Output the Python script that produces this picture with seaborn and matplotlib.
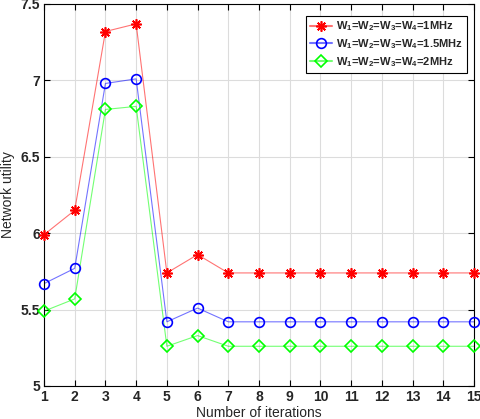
import matplotlib
matplotlib.use("Agg")
import matplotlib.pyplot as plt
import seaborn as sns
from matplotlib.lines import Line2D

# Data
iterations = list(range(1, 16))
util_1mhz = [5.99, 6.15, 7.32, 7.37, 5.74, 5.86] + [5.74] * 9
util_15mhz = [5.67, 5.77, 6.98, 7.01, 5.42, 5.51] + [5.42] * 9
util_2mhz = [5.49, 5.57, 6.81, 6.83, 5.26, 5.33] + [5.26] * 9
labels = [r"W$_1$=W$_2$=W$_3$=W$_4$=1MHz",
          r"W$_1$=W$_2$=W$_3$=W$_4$=1.5MHz",
          r"W$_1$=W$_2$=W$_3$=W$_4$=2MHz"]
series = [util_1mhz, util_15mhz, util_2mhz]

sns.set_style("whitegrid")
plt.rcParams['font.family'] = ['Liberation Sans', 'DejaVu Sans']
plt.rcParams['mathtext.fontset'] = 'custom'
plt.rcParams['mathtext.rm'] = 'Liberation Sans:bold'
plt.rcParams['mathtext.it'] = 'Liberation Sans:bold'

fig = plt.figure(figsize=(4.81, 4.19), dpi=100)
ax = fig.add_axes([44 / 481, 33 / 419, 430 / 481, 382 / 419])

colors = ["#ff0000", "#0000ff", "#00ff00"]
markers = [(8, 2, 0), "o", "D"]
msizes = [7.5, 7, 6.5]

handles = []
for vals, lab, c, m, ms in zip(series, labels, colors, markers, msizes):
    sns.lineplot(x=iterations, y=vals, color=matplotlib.colors.to_rgba(c, 0.55),
                 linewidth=0.8, ax=ax)
    ax.plot(iterations, vals, linestyle="none", marker=m, markersize=ms,
            markerfacecolor="none", markeredgecolor=c, markeredgewidth=1.2,
            clip_on=False, zorder=3)
    handles.append(Line2D([0], [0], color=matplotlib.colors.to_rgba(c, 0.55),
                          marker=m, markerfacecolor="none", markeredgecolor=c,
                          markeredgewidth=1.2, markersize=ms, linewidth=1.5))

ax.set_xlim(1, 15)
ax.set_ylim(5, 7.5)
ax.set_xticks(range(1, 16))
ax.set_yticks([5, 5.5, 6, 6.5, 7, 7.5])
ax.set_yticklabels(["5", "5.5", "6", "6.5", "7", "7.5"])
ax.tick_params(labelsize=10, direction="in", length=4, color="black", pad=3,
               bottom=True, left=True, top=True, right=True)
for t in ax.get_xticklabels() + ax.get_yticklabels():
    t.set_fontweight("bold")
ax.grid(True, color="#dcdcdc", linewidth=0.8)
for s in ax.spines.values():
    s.set_color("black")
    s.set_linewidth(0.8)

ax.set_xlabel("Number of iterations", fontsize=10, labelpad=1)
ax.set_ylabel("Network utility", fontsize=10, labelpad=4)

leg = ax.legend(handles, labels, loc="upper right", fontsize=8, fancybox=False,
                framealpha=1, edgecolor="black", handlelength=2.0,
                bbox_to_anchor=(0.988, 0.975), borderaxespad=0.2,
                labelspacing=0.35, handletextpad=0.3, borderpad=0.35)
leg.get_frame().set_linewidth(0.8)
for t in leg.get_texts():
    t.set_fontweight("bold")

fig.savefig("out.png", dpi=100)
